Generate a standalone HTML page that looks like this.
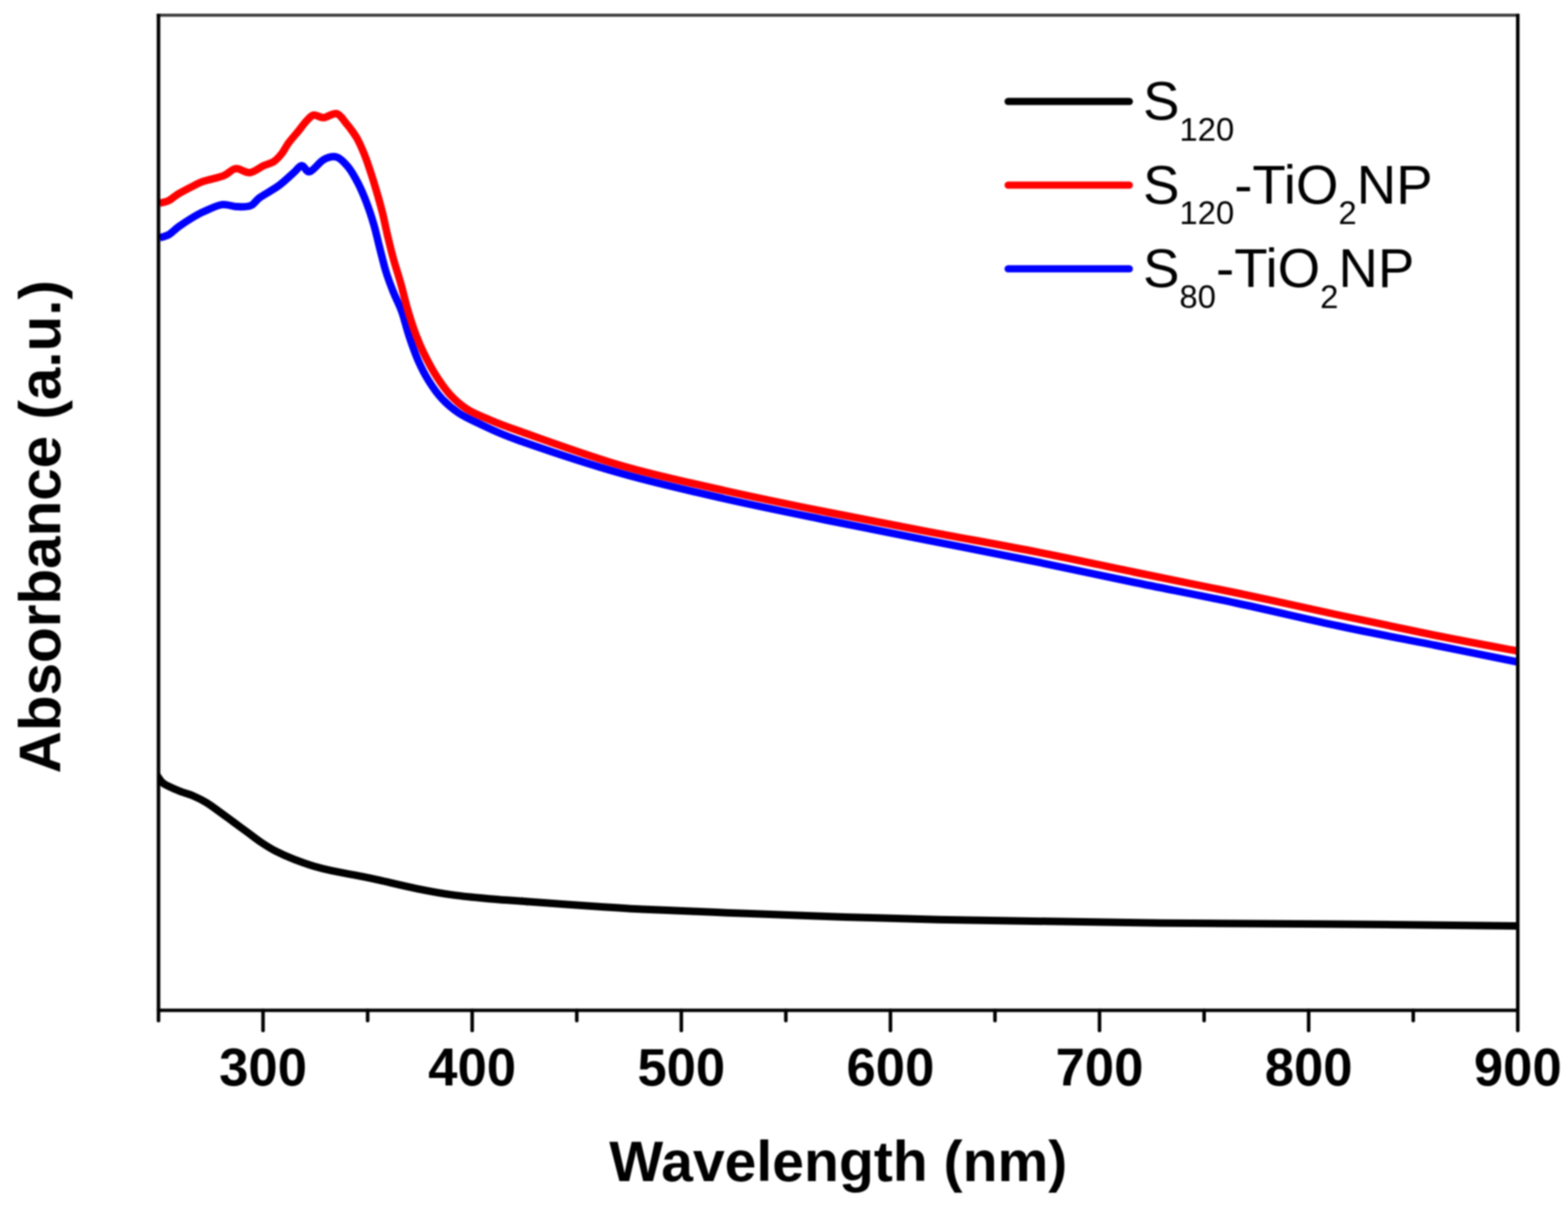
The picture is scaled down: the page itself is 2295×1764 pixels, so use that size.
<!DOCTYPE html>
<html><head><meta charset="utf-8"><title>Absorbance spectra</title>
<style>
html,body{margin:0;padding:0;background:#fff;}
body{width:2295px;height:1764px;overflow:hidden;}
svg{display:block;filter:blur(1px);}
.b{font-family:"Liberation Sans",Arial,sans-serif;font-weight:bold;fill:#000;}
.r{font-family:"Liberation Sans",Arial,sans-serif;font-weight:normal;fill:#000;}
</style></head>
<body>
<svg width="2295" height="1764" viewBox="0 0 2295 1764">
<rect x="0" y="0" width="2295" height="1764" fill="#fff"/>
<defs><clipPath id="pa"><rect x="232" y="0" width="1989.5" height="1764"/></clipPath></defs>
<g fill="none" stroke-linejoin="round" stroke-linecap="butt" clip-path="url(#pa)">
<path d="M229.0,1134.0 C230.3,1135.8 234.3,1142.3 237.0,1145.0 C239.7,1147.7 240.5,1147.9 245.0,1150.2 C249.5,1152.5 257.8,1156.1 264.1,1158.6 C270.5,1161.1 276.8,1162.5 283.1,1165.2 C289.5,1167.9 295.9,1171.2 302.2,1175.0 C308.5,1178.8 314.5,1183.5 321.1,1188.2 C327.7,1192.9 334.8,1198.3 341.6,1203.3 C348.5,1208.3 355.3,1213.4 362.2,1218.4 C369.1,1223.4 375.9,1228.9 382.8,1233.5 C389.7,1238.1 395.4,1241.8 403.4,1245.9 C411.4,1250.0 421.6,1254.6 430.8,1258.2 C440.0,1261.8 449.2,1265.0 458.3,1267.8 C467.4,1270.5 474.6,1272.3 485.7,1274.7 C496.8,1277.1 513.5,1279.9 525.0,1282.2 C536.5,1284.5 540.8,1285.3 554.9,1288.4 C569.0,1291.5 591.5,1297.1 609.8,1300.8 C628.1,1304.5 646.4,1307.9 664.7,1310.4 C683.0,1312.9 701.3,1314.3 719.6,1315.9 C737.9,1317.5 756.2,1318.6 774.5,1320.0 C792.8,1321.4 811.1,1322.8 829.4,1324.1 C847.7,1325.4 866.0,1326.5 884.3,1327.7 C902.6,1328.9 920.9,1330.1 939.2,1331.0 C957.5,1331.9 975.8,1332.4 994.1,1333.2 C1012.4,1334.0 1031.3,1334.9 1049.0,1335.6 C1066.7,1336.3 1068.6,1336.3 1100.0,1337.4 C1131.4,1338.5 1191.5,1340.9 1237.2,1342.4 C1283.0,1343.9 1328.8,1345.2 1374.5,1346.2 C1420.2,1347.2 1457.5,1347.6 1511.7,1348.4 C1566.0,1349.2 1628.2,1350.5 1700.0,1351.2 C1771.8,1351.9 1855.7,1352.0 1942.4,1352.7 C2029.1,1353.4 2173.7,1355.0 2220.0,1355.5" stroke="#000" stroke-width="11"/>
<path d="M233.8,347.9 C236.0,347.2 242.4,346.2 247.0,343.5 C251.6,340.8 256.2,335.7 261.6,331.8 C267.0,327.9 273.1,323.8 279.2,320.1 C285.3,316.4 290.6,313.2 298.2,309.8 C305.8,306.4 316.6,300.8 324.6,299.6 C332.7,298.4 339.4,302.3 346.5,302.5 C353.6,302.7 361.4,303.2 367.0,301.0 C372.6,298.8 373.4,294.2 380.2,289.3 C387.0,284.4 399.7,277.9 408.0,271.8 C416.3,265.7 424.4,257.6 430.0,252.7 C435.6,247.8 437.8,242.7 441.7,242.5 C445.6,242.3 448.0,252.8 453.4,251.3 C458.8,249.8 467.3,237.2 473.9,233.7 C480.5,230.1 486.9,228.2 492.9,230.0 C498.8,231.8 504.4,238.3 509.6,244.6 C514.8,250.9 519.4,259.3 523.9,267.9 C528.4,276.5 532.5,286.3 536.4,296.4 C540.3,306.5 543.8,317.3 547.1,328.6 C550.4,339.9 553.1,352.7 556.1,364.3 C559.1,375.9 561.8,387.6 565.0,398.0 C568.2,408.4 571.7,417.4 575.5,427.0 C579.3,436.6 584.0,445.0 587.9,455.7 C591.8,466.4 594.6,479.5 598.6,491.4 C602.6,503.3 607.0,516.2 611.7,527.1 C616.5,538.0 621.2,547.4 627.1,556.9 C633.0,566.4 640.0,576.4 647.4,584.3 C654.8,592.2 662.3,598.5 671.2,604.5 C680.1,610.5 686.2,613.2 701.0,620.0 C715.8,626.8 725.2,632.8 760.0,645.0 C794.8,657.2 860.0,679.1 910.0,693.3 C960.0,707.5 1010.0,718.6 1060.0,730.0 C1110.0,741.4 1160.0,751.3 1210.0,761.5 C1260.0,771.7 1310.0,781.4 1360.0,791.3 C1410.0,801.2 1460.0,810.8 1510.0,821.0 C1560.0,831.2 1610.0,842.2 1660.0,852.5 C1710.0,862.8 1760.0,872.3 1810.0,883.0 C1860.0,893.7 1911.7,906.2 1960.0,916.5 C2008.3,926.8 2056.5,935.8 2100.0,944.5 C2143.5,953.2 2200.8,964.9 2221.0,969.0" stroke="#0000ff" stroke-width="11"/>
<path d="M233.8,297.4 C236.0,296.8 242.4,296.0 247.0,293.7 C251.6,291.4 255.5,287.1 261.6,283.5 C267.7,279.9 277.5,274.9 283.6,271.8 C289.7,268.8 290.9,267.6 298.2,265.2 C305.5,262.8 319.7,260.2 327.5,257.1 C335.3,254.1 338.6,247.6 345.0,246.9 C351.4,246.2 358.8,253.4 365.6,252.7 C372.4,252.0 380.1,245.2 386.0,242.5 C391.9,239.8 396.3,239.5 400.7,236.6 C405.1,233.7 408.7,229.5 412.4,224.9 C416.1,220.3 418.5,214.4 422.7,208.8 C426.9,203.2 432.9,196.6 437.3,191.2 C441.7,185.8 445.3,180.4 449.0,176.6 C452.7,172.8 455.2,169.2 459.3,168.5 C463.4,167.8 468.3,172.5 473.9,172.2 C479.5,171.8 487.2,164.8 492.9,166.4 C498.6,168.1 503.0,176.2 507.9,182.1 C512.8,188.0 517.9,194.7 522.1,201.8 C526.3,209.0 529.6,217.0 532.9,225.0 C536.2,233.0 538.8,241.1 541.8,250.0 C544.8,258.9 547.7,268.5 550.7,278.6 C553.7,288.7 556.9,300.0 559.6,310.7 C562.3,321.4 564.1,331.6 566.8,342.9 C569.5,354.2 572.4,366.7 575.7,378.6 C579.0,390.5 582.8,401.5 586.4,414.3 C590.0,427.1 593.6,442.9 597.4,455.7 C601.2,468.5 605.1,480.5 609.3,491.4 C613.5,502.3 617.4,511.3 622.4,521.2 C627.4,531.1 632.9,541.5 639.0,551.0 C645.1,560.5 651.9,570.4 659.3,578.3 C666.6,586.2 674.2,592.8 683.1,598.6 C692.0,604.4 700.1,607.5 712.9,612.9 C725.7,618.3 727.1,619.5 760.0,631.0 C792.9,642.5 860.0,667.2 910.0,681.7 C960.0,696.2 1010.0,706.7 1060.0,718.0 C1110.0,729.3 1160.0,739.4 1210.0,749.5 C1260.0,759.6 1310.0,769.1 1360.0,778.6 C1410.0,788.1 1460.0,796.7 1510.0,806.5 C1560.0,816.3 1610.0,827.2 1660.0,837.5 C1710.0,847.8 1760.0,857.5 1810.0,868.0 C1860.0,878.5 1911.7,890.2 1960.0,900.5 C2008.3,910.8 2056.5,921.2 2100.0,930.0 C2143.5,938.8 2200.8,949.2 2221.0,953.0" stroke="#ff0000" stroke-width="11"/>
</g>
<line x1="229.5" y1="22.3" x2="2224.0" y2="22.3" stroke="#3c3c3c" stroke-width="4.6"/>
<g stroke="#000" stroke-width="5.2" fill="none" stroke-linecap="butt">
<line x1="232" y1="20.3" x2="232" y2="1479"/>
<line x1="2221.5" y1="20.3" x2="2221.5" y2="1479"/>
<line x1="230" y1="1479" x2="2223.5" y2="1479"/>
<line x1="232.0" y1="1479.0" x2="232.0" y2="1493.9" stroke-linecap="round"/><line x1="385.0" y1="1479.0" x2="385.0" y2="1508.4" stroke-linecap="round"/><line x1="538.1" y1="1479.0" x2="538.1" y2="1493.9" stroke-linecap="round"/><line x1="691.1" y1="1479.0" x2="691.1" y2="1508.4" stroke-linecap="round"/><line x1="844.2" y1="1479.0" x2="844.2" y2="1493.9" stroke-linecap="round"/><line x1="997.2" y1="1479.0" x2="997.2" y2="1508.4" stroke-linecap="round"/><line x1="1150.2" y1="1479.0" x2="1150.2" y2="1493.9" stroke-linecap="round"/><line x1="1303.3" y1="1479.0" x2="1303.3" y2="1508.4" stroke-linecap="round"/><line x1="1456.3" y1="1479.0" x2="1456.3" y2="1493.9" stroke-linecap="round"/><line x1="1609.3" y1="1479.0" x2="1609.3" y2="1508.4" stroke-linecap="round"/><line x1="1762.4" y1="1479.0" x2="1762.4" y2="1493.9" stroke-linecap="round"/><line x1="1915.4" y1="1479.0" x2="1915.4" y2="1508.4" stroke-linecap="round"/><line x1="2068.5" y1="1479.0" x2="2068.5" y2="1493.9" stroke-linecap="round"/><line x1="2221.5" y1="1479.0" x2="2221.5" y2="1508.4" stroke-linecap="round"/>
</g>
<g class="b" font-size="77" text-anchor="middle">
<text x="385.0" y="1589.0">300</text><text x="691.1" y="1589.0">400</text><text x="997.2" y="1589.0">500</text><text x="1303.3" y="1589.0">600</text><text x="1609.3" y="1589.0">700</text><text x="1915.4" y="1589.0">800</text><text x="2221.5" y="1589.0">900</text>
</g>
<text class="b" font-size="83.6" x="1227" y="1729" text-anchor="middle">Wavelength (nm)</text>
<text class="b" font-size="85.5" transform="translate(88,771) rotate(-90)" text-anchor="middle">Absorbance (a.u.)</text>
<g stroke-width="10.5" stroke-linecap="round">
<line x1="1475.5" y1="148.5" x2="1653" y2="148.5" stroke="#000"/>
<line x1="1475.5" y1="271.0" x2="1653" y2="271.0" stroke="#ff0000"/>
<line x1="1475.5" y1="393.5" x2="1653" y2="393.5" stroke="#0000ff"/>
</g>
<g class="r" font-size="80">
<text x="1673" y="175">S<tspan font-size="48" dy="30.5">120</tspan></text>
<text x="1673" y="297.5">S<tspan font-size="48" dy="30.5">120</tspan><tspan dy="-30.5">-TiO</tspan><tspan font-size="48" dy="30.5">2</tspan><tspan dy="-30.5">NP</tspan></text>
<text x="1673" y="420.0">S<tspan font-size="48" dy="30.5">80</tspan><tspan dy="-30.5">-TiO</tspan><tspan font-size="48" dy="30.5">2</tspan><tspan dy="-30.5">NP</tspan></text>
</g>
</svg>
</body></html>
